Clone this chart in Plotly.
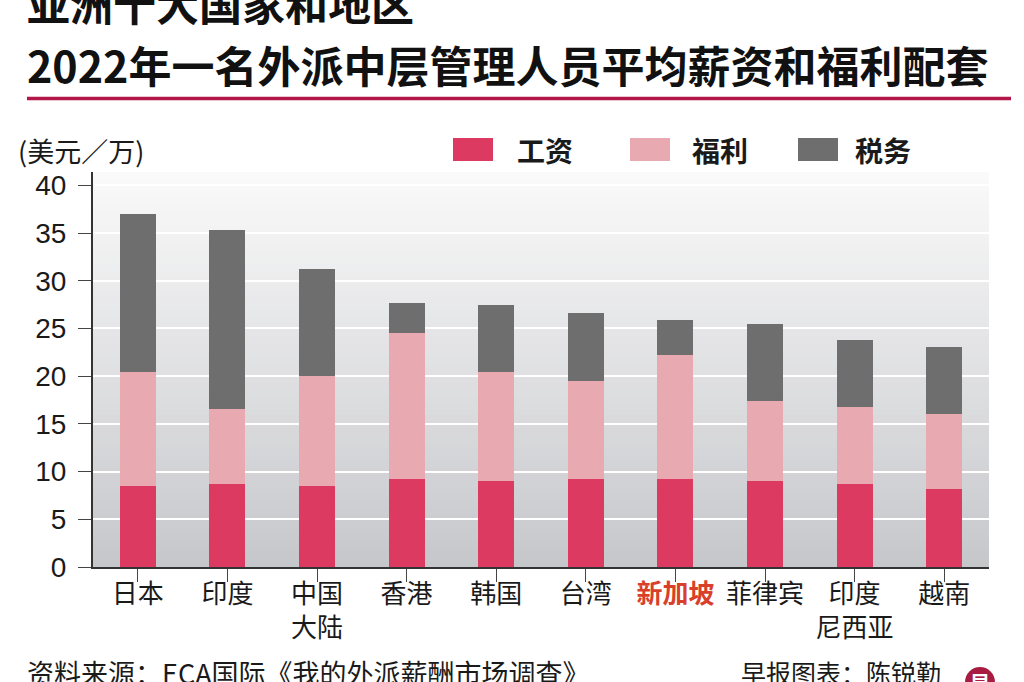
import plotly.graph_objects as go

# ---- data ----
categories = ["日本", "印度", "中国<br>大陆", "香港", "韩国", "台湾", "新加坡", "菲律宾", "印度<br>尼西亚", "越南"]
salary   = [8.5, 8.7, 8.5, 9.2, 9.0, 9.2, 9.2, 9.0, 8.7, 8.2]
benefits = [11.9, 7.9, 11.5, 15.3, 11.4, 10.3, 13.0, 8.4, 8.1, 7.8]
tax      = [16.6, 18.7, 11.2, 3.2, 7.1, 7.1, 3.7, 8.1, 7.0, 7.1]
series_names = ["工资", "福利", "税务"]
y_ticks = [0, 5, 10, 15, 20, 25, 30, 35, 40]
highlight = "新加坡"

title_line1 = "亚洲十大国家和地区"
title_line2 = "2022年一名外派中层管理人员平均薪资和福利配套"
unit_label = "(美元／万)"
source_text = "资料来源：ECA国际《我的外派薪酬市场调查》"
credit_text = "早报图表：陈锐勤"

# ---- style ----
W, H = 1024, 682
L, R, T, B = 93, 35, 172, 115
colors = ["#dc3a60", "#e8aab0", "#6e6e6e"]
CJK = "Noto Sans CJK SC"

def py(p):  # pixel y -> paper y
    return (H - B - p) / (H - T - B)

def px(p):  # pixel x -> paper x
    return (p - L) / (W - L - R)

x_idx = list(range(len(categories)))
ticktext = [
    f"<span style='color:#d9402a'><b>{c}</b></span>" if c == highlight else c
    for c in categories
]

fig = go.Figure()
for name, vals, col in zip(series_names, [salary, benefits, tax], colors):
    fig.add_trace(go.Bar(x=x_idx, y=vals, name=name, marker_color=col,
                         marker_line_width=0, width=0.4, showlegend=False))

shapes = []
# gradient plot background
N = 60
top_c = (250, 250, 250)
bot_c = (198, 199, 203)
for i in range(N):
    f = (i + 0.5) / N
    c = tuple(int(round(top_c[k] + (bot_c[k] - top_c[k]) * f)) for k in range(3))
    shapes.append(dict(type="rect", xref="paper", yref="paper",
                       x0=0, x1=1, y0=1 - (i + 1) / N - 0.002, y1=1 - i / N,
                       fillcolor=f"rgb{c}", line_width=0, layer="below"))
# title rule
shapes.append(dict(type="line", xref="paper", yref="paper",
                   x0=px(27), x1=px(1011), y0=py(98.5), y1=py(98.5),
                   line=dict(color="#b3174a", width=3.5)))
# legend swatches
sw_x = [453, 630, 798]
for x0, col in zip(sw_x, colors):
    shapes.append(dict(type="rect", xref="paper", yref="paper",
                       x0=px(x0), x1=px(x0 + 40), y0=py(161), y1=py(138),
                       fillcolor=col, line_width=0))
# logo circle
shapes.append(dict(type="circle", xref="paper", yref="paper",
                   x0=px(965), x1=px(995), y0=py(697), y1=py(667),
                   fillcolor="#a81c42", line_width=0))

annotations = []
txt_x = [515, 690, 853]
for x0, name in zip(txt_x, series_names):
    annotations.append(dict(text=f"<b>{name}</b>", xref="paper", yref="paper",
                            x=px(x0), y=py(150), xanchor="left", yanchor="middle",
                            showarrow=False, font=dict(family=CJK, size=28, color="#1a1a1a")))
annotations += [
    dict(text=f"<b>{title_line1}</b>", xref="paper", yref="paper", x=px(25), y=py(2),
         xanchor="left", yanchor="middle", showarrow=False,
         font=dict(family=CJK, size=43, color="#111111")),
    dict(text=f"<b>{title_line2}</b>", xref="paper", yref="paper", x=px(25), y=py(64),
         xanchor="left", yanchor="middle", showarrow=False,
         font=dict(family=CJK, size=43, color="#111111")),
    dict(text=unit_label, xref="paper", yref="paper", x=px(16), y=py(151),
         xanchor="left", yanchor="middle", showarrow=False,
         font=dict(family=CJK, size=27, color="#1a1a1a")),
    dict(text=source_text, xref="paper", yref="paper", x=px(25), y=py(672),
         xanchor="left", yanchor="middle", showarrow=False,
         font=dict(family=CJK, size=27, color="#1a1a1a")),
    dict(text=credit_text, xref="paper", yref="paper", x=px(943), y=py(672),
         xanchor="right", yanchor="middle", showarrow=False,
         font=dict(family=CJK, size=25, color="#1a1a1a")),
    dict(text="<b>早</b>", xref="paper", yref="paper", x=px(980), y=py(682),
         xanchor="center", yanchor="middle", showarrow=False,
         font=dict(family=CJK, size=20, color="white")),
]

fig.update_layout(
    width=W, height=H,
    margin=dict(l=L, r=R, t=T, b=B, pad=0),
    barmode="stack",
    bargap=0.6,
    paper_bgcolor="white",
    plot_bgcolor="rgba(0,0,0,0)",
    shapes=shapes,
    annotations=annotations,
    showlegend=False,
    xaxis=dict(
        tickmode="array", tickvals=x_idx, ticktext=ticktext,
        range=[-0.5, len(categories) - 0.5],
        tickson="boundaries", ticks="outside", ticklen=13, tickwidth=1.2,
        tickcolor="#444", showline=True, linecolor="#333", linewidth=2,
        showgrid=False, tickfont=dict(family=CJK, size=26, color="#1a1a1a"),
        ticklabelstandoff=-10, fixedrange=True,
    ),
    yaxis=dict(
        range=[0, 41.4], tickvals=y_ticks, ticks="outside", ticklen=13,
        tickwidth=1.2, tickcolor="#444", showline=True, linecolor="#333",
        linewidth=2, showgrid=True, gridcolor="white", gridwidth=1.5,
        zeroline=False, ticklabelstandoff=6,
        tickfont=dict(family="Liberation Sans", size=28, color="#1a1a1a"),
        fixedrange=True,
    ),
)

fig.write_html("out.html", config={"displayModeBar": False},
               post_script="document.body.style.margin='0';")
